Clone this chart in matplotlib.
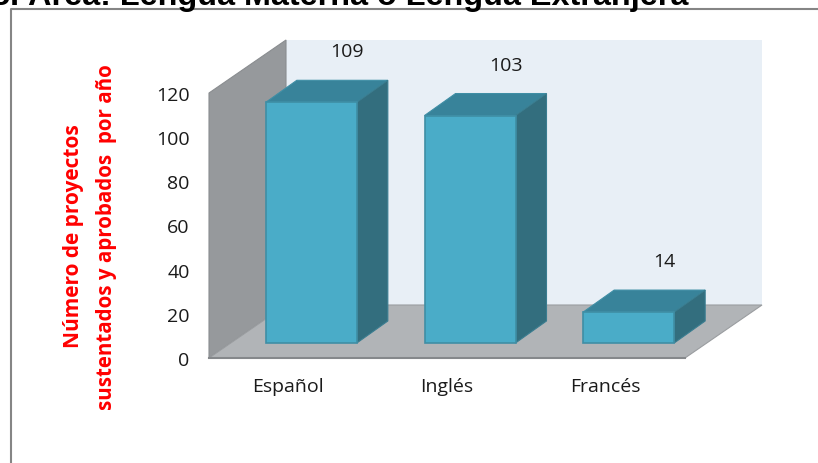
import matplotlib
matplotlib.use("Agg")
import matplotlib.pyplot as plt
from matplotlib.patches import Polygon

# --- data ---
categories = ["Español", "Inglés", "Francés"]
values = [109, 103, 14]
y_ticks = [0, 20, 40, 60, 80, 100, 120]

W, H = 818, 464
FONT = ["Open Sans", "DejaVu Sans"]

fig = plt.figure(figsize=(W / 100, H / 100), dpi=100)
fig.patch.set_facecolor("white")

# axes = front plane of the 3D box (pixels 209-685 / 94-359)
ax = fig.add_axes([209 / W, 1 - 359 / H, 476 / W, 265 / H])
ax.set_xlim(0, len(categories))
ax.set_ylim(0, 120)
ax.patch.set_visible(False)
for s in ax.spines.values():
    s.set_visible(False)

# pixel -> data sizes
px_x = len(categories) / 476
px_y = 120 / 265

# depth of the box and of the bars
box_dx, box_dy = 77 * px_x, 53 * px_y
bar_dx, bar_dy = 31 * px_x, 22 * px_y
bar_w = 91 * px_x
bar_x_off = 23 * px_x
bar_base = 15 * px_y


def poly(pts, fc, ec="none", lw=0.0, z=1):
    ax.add_patch(Polygon(pts, closed=True, facecolor=fc, edgecolor=ec, linewidth=lw,
                         zorder=z, clip_on=False, joinstyle="miter"))


n = len(categories)
ymax = 120

# back wall, side wall, floor
poly([(box_dx, box_dy), (n + box_dx, box_dy), (n + box_dx, ymax + box_dy), (box_dx, ymax + box_dy)], "#e8eff6")
poly([(0, 0), (box_dx, box_dy), (box_dx, ymax + box_dy), (0, ymax)], "#96999c", "#8a8d90", 0.8, z=2)
poly([(0, 0), (n, 0), (n + box_dx, box_dy), (box_dx, box_dy)], "#b1b4b7", "#9a9da0", 0.8, z=2)
ax.plot([0, n], [0, 0], color="#85888b", lw=1.5, zorder=3, clip_on=False)

# bars + value labels
for i, v in enumerate(values):
    c = i + 0.5 + bar_x_off
    x0, x1 = c - bar_w / 2, c + bar_w / 2
    y0, y1 = bar_base, bar_base + v
    poly([(x0, y1), (x1, y1), (x1 + bar_dx, y1 + bar_dy), (x0 + bar_dx, y1 + bar_dy)], "#38839a", "#3f8ea5", 0.8, z=4)
    poly([(x1, y0), (x1 + bar_dx, y0 + bar_dy), (x1 + bar_dx, y1 + bar_dy), (x1, y1)], "#336e7e", "#3a7d90", 0.8, z=4)
    poly([(x0, y0), (x1, y0), (x1, y1), (x0, y1)], "#4aacc8", "#3f8ea5", 1.2, z=5)
    ax.text(c + 36 * px_x, y1 + bar_dy + 29 * px_y, str(v), ha="center", va="center",
            fontsize=14, color="#1a1a1a", family=FONT, zorder=6)

# axis labels
ax.set_xticks([i + 0.5 for i in range(n)])
ax.set_xticklabels(categories, fontsize=14, color="#1a1a1a", family=FONT)
ax.set_yticks(y_ticks)
ax.set_yticklabels([str(t) for t in y_ticks], fontsize=14, color="#1a1a1a", family=FONT)
ax.tick_params(axis="x", length=0, pad=14)
ax.tick_params(axis="y", length=0, pad=14)

# y title, two red bold lines
fig.text(74 / W, 1 - 236 / H, "Número de proyectos", rotation=90, ha="center", va="center",
         fontsize=15, fontweight="bold", color="#ff0000", family=FONT)
fig.text(107 / W, 1 - 237 / H, "sustentados y aprobados  por año", rotation=90, ha="center", va="center",
         fontsize=14.8, fontweight="bold", color="#ff0000", family=FONT)

# chart frame, runs off the picture on the right and bottom
fig.add_artist(plt.Line2D([11 / W, 11 / W, 1], [0, 1 - 10 / H, 1 - 10 / H], color="#858585", lw=1.5))

# clipped heading of the page
fig.text(-8 / W, 1 - 5 / H, "5. Área: Lengua Materna o Lengua Extranjera", ha="left", va="baseline",
         fontsize=23.3, fontweight="bold", color="black", family=["Liberation Sans", "DejaVu Sans"])

fig.savefig("out.png", dpi=100)
